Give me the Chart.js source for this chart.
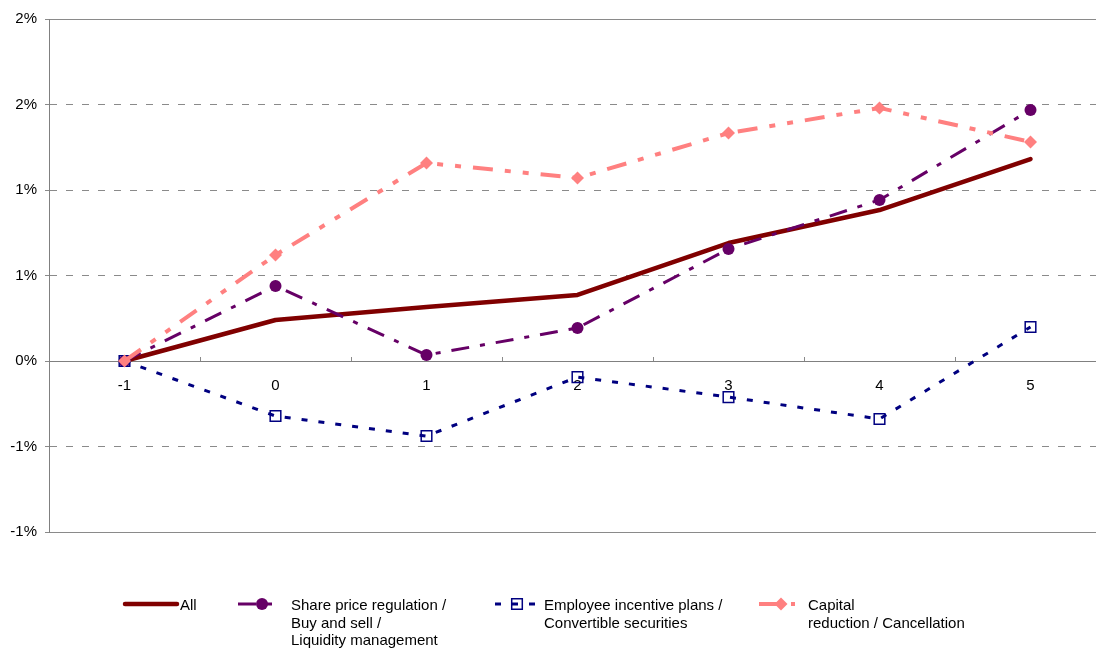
<!DOCTYPE html>
<html>
<head>
<meta charset="utf-8">
<style>
  html, body { margin: 0; padding: 0; background: #fff; overflow: hidden; }
  #wrap { width: 1115px; height: 648px; }
  canvas { display: block; width: 1115px; height: 648px; }
</style>
<script src="https://cdn.jsdelivr.net/npm/chart.js@4.4.1/dist/chart.umd.min.js"></script>
</head>
<body>
<div id="wrap"><canvas id="chart" width="1115" height="648"></canvas></div>
<script>
// Event window (days) and average cumulative returns, in percent
const categories = ['-1', '0', '1', '2', '3', '4', '5'];
const allValues = [0, 0.240, 0.316, 0.386, 0.690, 0.883, 1.181];
const sharePriceValues = [0, 0.439, 0.035, 0.193, 0.655, 0.942, 1.468];
const employeeValues = [0, -0.322, -0.439, -0.094, -0.211, -0.339, 0.199];
const capitalValues = [0, 0.620, 1.158, 1.070, 1.333, 1.480, 1.281];

// Axis labels as printed with whole-percent formatting
const yTickLabels = ['-1%', '-1%', '0%', '1%', '1%', '2%', '2%'];

// Legend entries, one line of text per array item
const seriesNames = [
  ['All'],
  ['Share price regulation /', 'Buy and sell /', 'Liquidity management'],
  ['Employee incentive plans /', 'Convertible securities'],
  ['Capital', 'reduction / Cancellation']
];

const FONT = '"Liberation Sans", Arial, Helvetica, sans-serif';
Chart.defaults.font.family = FONT;
Chart.defaults.font.size = 15;
Chart.defaults.color = '#000';

const GRID = '#8a8a8a';
const AXIS = '#808080';

function drawMarker(ctx, ds, x, y) {
  if (!ds.pointRadius) return;
  ctx.save();
  ctx.setLineDash([]);
  ctx.fillStyle = ds.pointBackgroundColor;
  ctx.strokeStyle = ds.pointBorderColor;
  ctx.lineWidth = ds.pointBorderWidth;
  Chart.helpers.drawPoint(ctx, {
    pointStyle: ds.pointStyle,
    radius: ds.pointRadius,
    rotation: 0,
    borderWidth: ds.pointBorderWidth
  }, x, y);
  ctx.restore();
}

// Legend drawn below the plot, with multi-line labels
const bottomLegend = {
  id: 'bottomLegend',
  afterDraw(chart) {
    const ctx = chart.ctx;
    const slots = [
      { x0: 125, x1: 177, mx: null, tx: 180 },
      { x0: 238, x1: 277, mx: 262, tx: 291 },
      { x0: 495, x1: 535, mx: 517, tx: 544 },
      { x0: 759, x1: 795, mx: 781, tx: 808 }
    ];
    const lineY = 604;
    chart.data.datasets.forEach((ds, i) => {
      const s = slots[i];
      ctx.save();
      ctx.strokeStyle = ds.borderColor;
      ctx.lineWidth = ds.borderWidth;
      ctx.lineCap = ds.borderCapStyle || 'butt';
      ctx.setLineDash(ds.borderDash || []);
      ctx.beginPath();
      ctx.moveTo(s.x0, lineY);
      ctx.lineTo(s.x1, lineY);
      ctx.stroke();
      ctx.restore();
      if (s.mx !== null) drawMarker(ctx, ds, s.mx, lineY);

      ctx.save();
      ctx.font = '15px ' + FONT;
      ctx.fillStyle = '#000';
      ctx.textAlign = 'left';
      ctx.textBaseline = 'middle';
      seriesNames[i].forEach((line, k) => {
        ctx.fillText(line, s.tx, 606 + k * 17.5);
      });
      ctx.restore();
    });
  }
};

function noScalePadding(scale) {
  scale.paddingLeft = 0;
  scale.paddingRight = 0;
  scale.paddingTop = 0;
  scale.paddingBottom = 0;
}

new Chart(document.getElementById('chart'), {
  type: 'line',
  data: {
    labels: categories,
    datasets: [
      {
        label: seriesNames[0].join(' '),
        data: allValues,
        borderColor: '#800000',
        borderWidth: 4.5,
        borderCapStyle: 'round',
        borderJoinStyle: 'round',
        pointRadius: 0,
        order: 4
      },
      {
        label: seriesNames[1].join(' '),
        data: sharePriceValues,
        borderColor: '#660066',
        borderWidth: 3,
        borderDash: [18, 11, 5, 11],
        pointStyle: 'circle',
        pointRadius: 6,
        pointBackgroundColor: '#660066',
        pointBorderColor: '#660066',
        pointBorderWidth: 0,
        order: 3
      },
      {
        label: seriesNames[2].join(' '),
        data: employeeValues,
        borderColor: '#000080',
        borderWidth: 3,
        borderDash: [6, 11],
        pointStyle: 'rect',
        pointRadius: 7.5,
        pointBackgroundColor: 'rgba(0,0,0,0)',
        pointBorderColor: '#000080',
        pointBorderWidth: 1.5,
        order: 2
      },
      {
        label: seriesNames[3].join(' '),
        data: capitalValues,
        borderColor: '#ff8080',
        borderWidth: 4,
        borderDash: [20, 12, 6, 12, 6, 12],
        pointStyle: 'rectRot',
        pointRadius: 6.5,
        pointBackgroundColor: '#ff8080',
        pointBorderColor: '#ff8080',
        pointBorderWidth: 0,
        order: 1
      }
    ]
  },
  options: {
    responsive: false,
    maintainAspectRatio: false,
    animation: false,
    layout: { padding: { left: 0, right: 0, top: 19, bottom: 116 } },
    elements: { line: { tension: 0 } },
    plugins: {
      legend: { display: false },
      tooltip: { enabled: false }
    },
    scales: {
      x: {
        position: { y: 0 },
        offset: true,
        ticks: { padding: 21, maxRotation: 0, autoSkip: false, color: '#000', font: { size: 15 } },
        grid: { drawOnChartArea: false, drawTicks: true, tickLength: -5, offset: true, color: GRID, lineWidth: 1 },
        border: { display: true, color: AXIS, width: 1 },
        afterFit(scale) { scale.height = 0; noScalePadding(scale); }
      },
      y: {
        min: -1,
        max: 2,
        ticks: {
          stepSize: 0.5,
          padding: 8,
          color: '#000',
          font: { size: 15 },
          callback: (value, index) => yTickLabels[index]
        },
        grid: { color: GRID, lineWidth: 1, drawTicks: true, tickLength: 4 },
        border: {
          display: true,
          color: AXIS,
          width: 1,
          dash: (ctx) => (ctx.type === 'tick' && ![-1, 0, 2].includes(ctx.tick.value)) ? [7, 9] : []
        },
        afterFit(scale) { scale.width = 49; noScalePadding(scale); }
      }
    }
  },
  plugins: [bottomLegend]
});
</script>
</body>
</html>
